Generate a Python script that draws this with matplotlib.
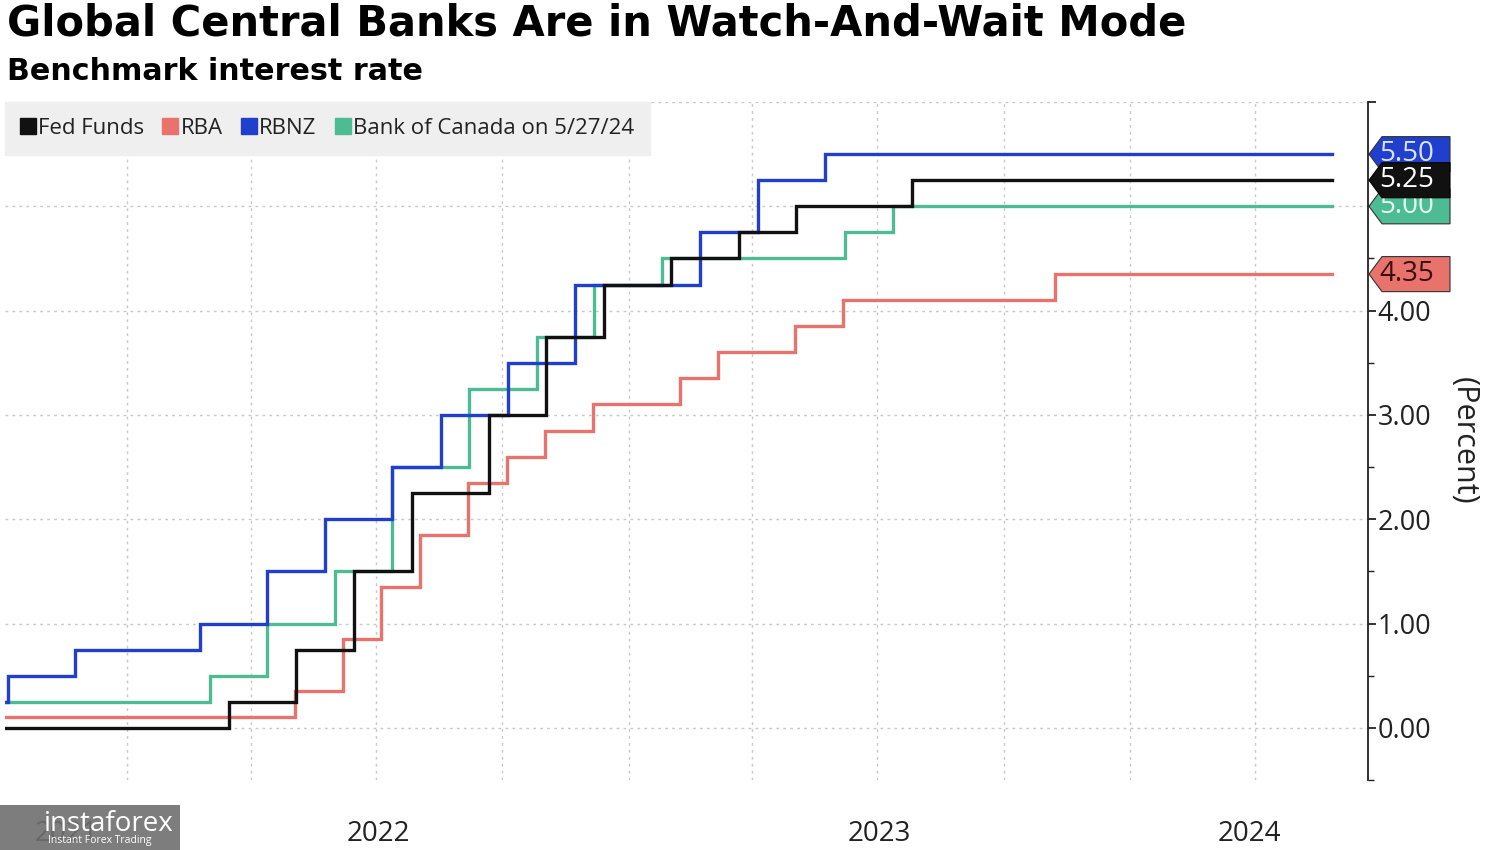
import datetime as dt
import matplotlib
matplotlib.use("Agg")
import matplotlib.pyplot as plt
import matplotlib.dates as mdates
from matplotlib.patches import Polygon, Rectangle
from matplotlib.lines import Line2D
from matplotlib.transforms import blended_transform_factory
from matplotlib.ticker import FixedLocator

# ---------------- data ----------------
end_date = "2024-05-27"

fed_dates = ["2021-10-05", "2022-03-16", "2022-05-04", "2022-06-15", "2022-07-27",
             "2022-09-21", "2022-11-02", "2022-12-14", "2023-02-01", "2023-03-22",
             "2023-05-03", "2023-07-26"]
fed_rates = [0.00, 0.25, 0.75, 1.50, 2.25, 3.00, 3.75, 4.25, 4.50, 4.75, 5.00, 5.25]

rba_dates = ["2021-10-05", "2022-05-03", "2022-06-07", "2022-07-05", "2022-08-02",
             "2022-09-06", "2022-10-04", "2022-11-01", "2022-12-06", "2023-02-07",
             "2023-03-07", "2023-05-02", "2023-06-06", "2023-11-07"]
rba_rates = [0.10, 0.35, 0.85, 1.35, 1.85, 2.35, 2.60, 2.85, 3.10, 3.35, 3.60, 3.85, 4.10, 4.35]

rbnz_dates = ["2021-10-05", "2021-10-06", "2021-11-24", "2022-02-23", "2022-04-13",
              "2022-05-25", "2022-07-13", "2022-08-17", "2022-10-05", "2022-11-23",
              "2023-02-22", "2023-04-05", "2023-05-24"]
rbnz_rates = [0.25, 0.50, 0.75, 1.00, 1.50, 2.00, 2.50, 3.00, 3.50, 4.25, 4.75, 5.25, 5.50]

boc_dates = ["2021-10-05", "2022-03-02", "2022-04-13", "2022-06-01", "2022-07-13",
             "2022-09-07", "2022-10-26", "2022-12-07", "2023-01-25", "2023-06-07",
             "2023-07-12"]
boc_rates = [0.25, 0.50, 1.00, 1.50, 2.50, 3.25, 3.75, 4.25, 4.50, 4.75, 5.00]

series_names = ["Fed Funds", "RBA", "RBNZ", "Bank of Canada on 5/27/24"]
series_colors = ["#111111", "#e8736c", "#1f3fcc", "#4dbb94"]
tag_text_colors = ["#ffffff", "#3a0c0c", "#d8e4ff", "#e6fff6"]

y_tick_labels = ["0.00", "1.00", "2.00", "3.00", "4.00"]
year_labels = ["2021", "2022", "2023", "2024"]

title = "Global Central Banks Are in Watch-And-Wait Mode"
subtitle = "Benchmark interest rate"
ylabel = "(Percent)"


def to_dt(s):
    return dt.datetime.strptime(s, "%Y-%m-%d")


def step_series(dates, rates):
    d = [to_dt(s) for s in dates] + [to_dt(end_date)]
    r = list(rates) + [rates[-1]]
    return d, r


# ---------------- figure ----------------
plt.rcParams["font.family"] = ["Open Sans", "DejaVu Sans"]

fig = plt.figure(figsize=(15, 8.5), dpi=100)
fig.patch.set_facecolor("white")
ax = fig.add_axes([5 / 1500, 1 - 780 / 850, 1363 / 1500, (780 - 102) / 850])

x_left = dt.datetime(2021, 10, 4)
x_right = dt.datetime(2024, 6, 22)
ax.set_xlim(x_left, x_right)
ax.set_ylim(-0.5, 6.0)

all_dates = [fed_dates, rba_dates, rbnz_dates, boc_dates]
all_rates = [fed_rates, rba_rates, rbnz_rates, boc_rates]
draw_order = [1, 3, 2, 0]
for i in draw_order:
    d, r = step_series(all_dates[i], all_rates[i])
    ax.step(d, r, where="post", color=series_colors[i], lw=2.4,
            zorder=3 + draw_order.index(i), solid_joinstyle="miter")

# spines
for s in ["left", "top", "bottom"]:
    ax.spines[s].set_visible(False)
ax.spines["right"].set_color("#222222")
ax.spines["right"].set_linewidth(1.3)

# y axis on the right
ax.yaxis.tick_right()
ax.yaxis.set_label_position("right")
ax.set_yticks([0, 1, 2, 3, 4, 5, 6])
ax.set_yticklabels(y_tick_labels + ["", ""])
ax.yaxis.set_minor_locator(FixedLocator([-0.5, 0.5, 1.5, 2.5, 3.5, 4.5, 5.5]))
ax.tick_params(axis="y", which="major", direction="out", length=6, width=1.3,
               color="#222222", labelsize=19.5, pad=1, labelcolor="#222222")
ax.tick_params(axis="y", which="minor", direction="out", length=4, width=1.0,
               color="#222222")
ax.set_ylabel(ylabel, rotation=270, fontsize=22, color="#222222", labelpad=34)

# horizontal grid
for yv in [0, 1, 2, 3, 4, 5, 6]:
    ax.axhline(yv, color="#c8c8c8", lw=1.0, ls=(0, (2, 3)), zorder=1)

# x axis: quarterly grid, year labels centred on visible part of year
quarters = []
for y in range(2021, 2025):
    for m in (1, 4, 7, 10):
        q = dt.datetime(y, m, 1)
        if x_left < q < x_right:
            quarters.append(q)
for q in quarters:
    ax.axvline(q, color="#c8c8c8", lw=1.0, ls=(0, (2, 3)), zorder=1)
ax.set_xticks([])

tx = blended_transform_factory(ax.transData, fig.transFigure)
for lab in year_labels:
    y = int(lab)
    a = max(dt.datetime(y, 1, 1), x_left)
    b = min(dt.datetime(y + 1, 1, 1), x_right)
    mid = a + (b - a) / 2
    ax.text(mdates.date2num(mid), 1 - 834 / 850, lab, transform=tx, ha="center", va="center",
            fontsize=20, color="#222222", clip_on=False)

# legend
handles = [Line2D([], [], marker="s", ls="none", color=c, markersize=12) for c in series_colors]
leg = ax.legend(handles, series_names, loc="upper left", bbox_to_anchor=(0.0, 1.0),
                ncol=4, frameon=True, fancybox=False, fontsize=16, handlelength=0.6,
                handletextpad=0.15, columnspacing=0.9, borderaxespad=0.0,
                borderpad=0.72, labelcolor="#222222")
leg.get_frame().set_facecolor("#efefef")
leg.get_frame().set_edgecolor("#efefef")
leg.get_frame().set_alpha(1.0)
leg.set_zorder(10)

# value tags
bt = blended_transform_factory(ax.transAxes, ax.transData)
x0 = (1369 - 5) / 1363
x1 = (1382 - 5) / 1363
x2 = (1450 - 5) / 1363
h = 0.168
tag_order = [2, 3, 0, 1]
for k, i in enumerate(tag_order):
    v = all_rates[i][-1]
    poly = Polygon([(x0, v), (x1, v + h), (x2, v + h), (x2, v - h), (x1, v - h)],
                   closed=True, transform=bt, facecolor=series_colors[i],
                   edgecolor="#333333" if i != 0 else "#000000", lw=0.8,
                   clip_on=False, zorder=20 + k)
    ax.add_patch(poly)
    ax.text((1407 - 5) / 1363, v, f"{v:.2f}", transform=bt, ha="center", va="center",
            fontsize=20, color=tag_text_colors[i], zorder=20 + k, clip_on=False)

# titles
fig.text(7 / 1500, 1 - 24 / 850, title, fontsize=30, fontweight="bold",
         family="DejaVu Sans", ha="left", va="center", color="#000000")
fig.text(7 / 1500, 1 - 72 / 850, subtitle, fontsize=21.7, fontweight="bold",
         family="DejaVu Sans", ha="left", va="center", color="#000000")

# watermark (semi-transparent overlay as in the source image)
fig.patches.append(Rectangle((0, 0), 180 / 1500, 45 / 850, transform=fig.transFigure,
                             facecolor="#6f6f6f", edgecolor="none", alpha=0.9, zorder=30))
fig.text(44 / 1500, 1 - 824 / 850, "instaforex", fontsize=20, color="white",
         ha="left", va="center", zorder=31)
fig.text(48 / 1500, 1 - 841 / 850, "Instant Forex Trading", fontsize=7.5, color="white",
         ha="left", va="center", zorder=31)

fig.savefig("out.png", dpi=100)
